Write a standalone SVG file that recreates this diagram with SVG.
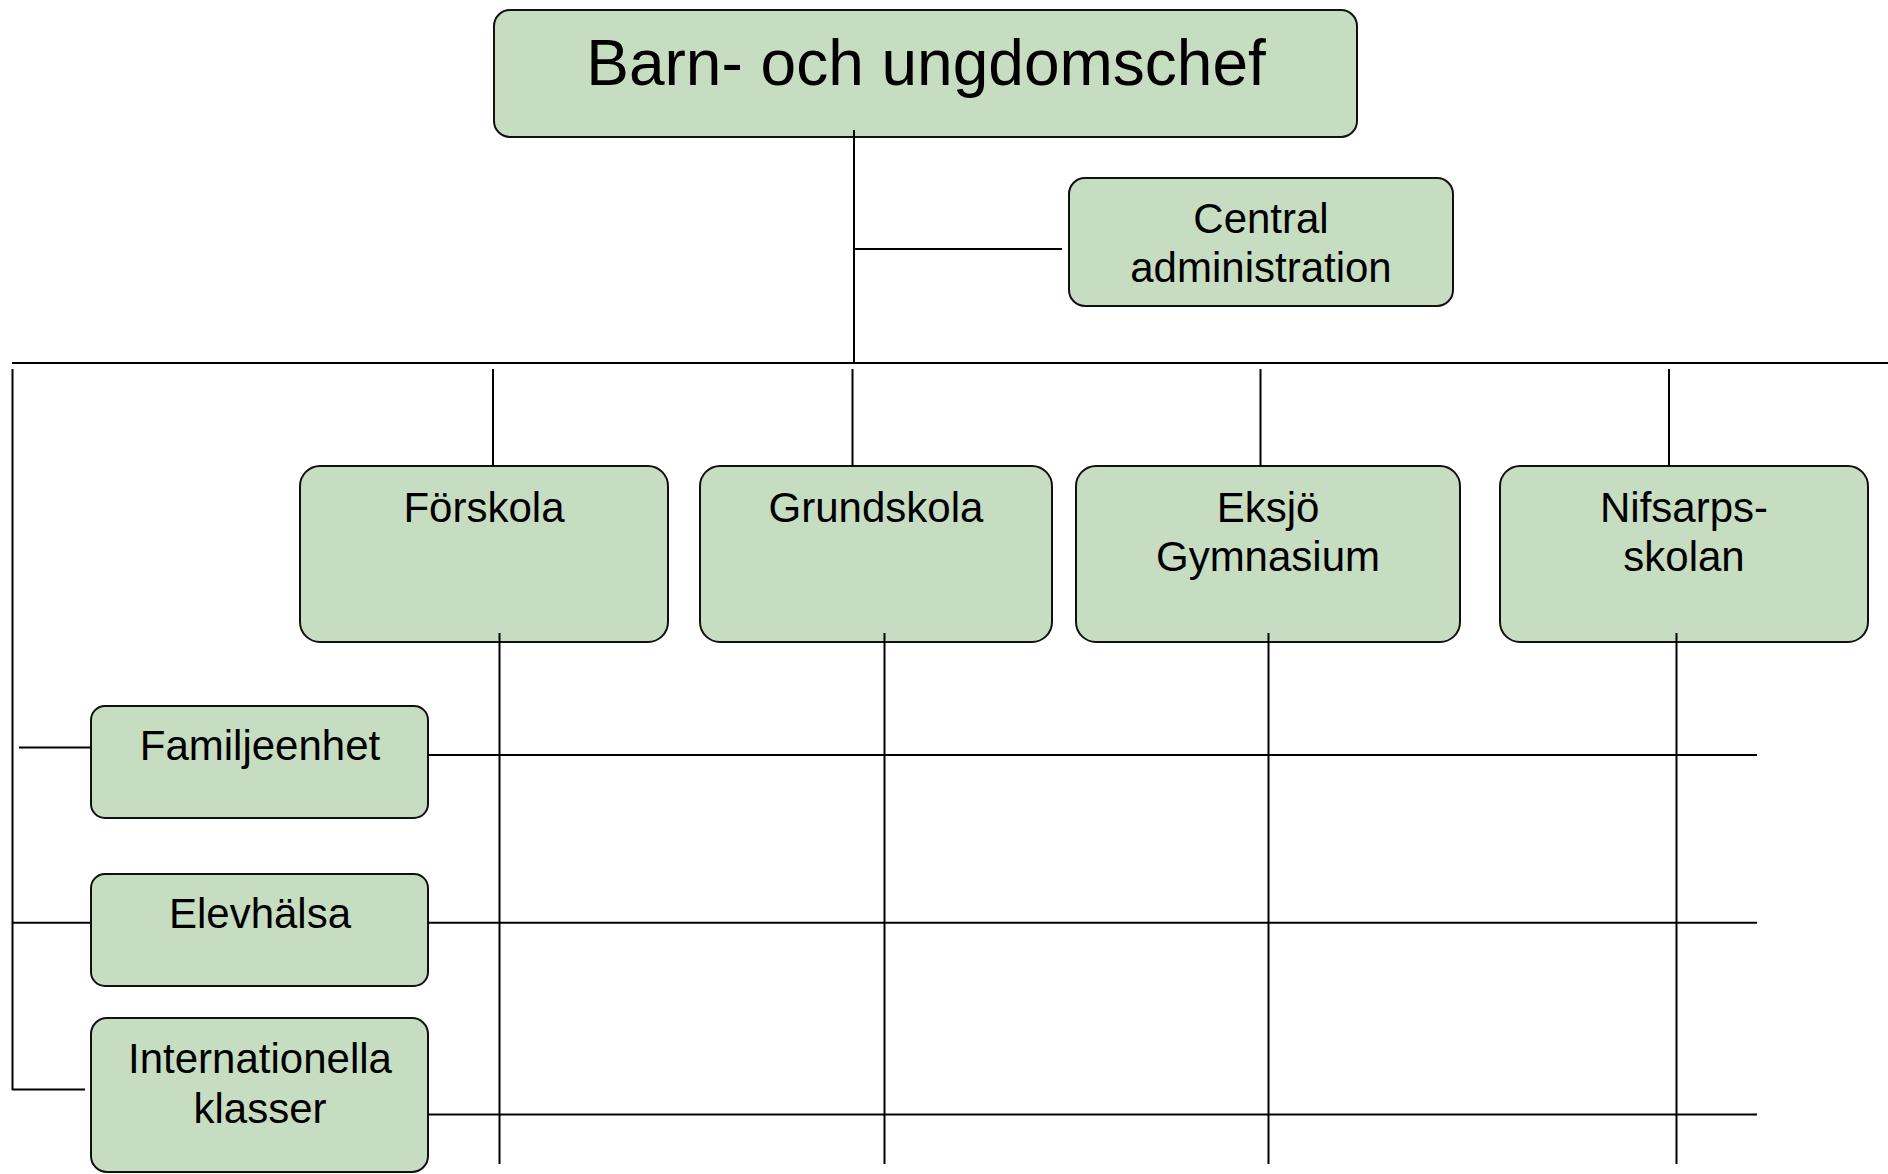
<svg xmlns="http://www.w3.org/2000/svg" width="1888" height="1174" viewBox="0 0 1888 1174">
<style>
.box{fill:#C6DDC1;stroke:#111;stroke-width:2}
.t{font-family:"Liberation Sans",Arial,sans-serif;font-size:42px;fill:#000;text-anchor:middle}
.big{font-size:64px}
.c line{stroke:#000;stroke-width:2}
</style>
<rect width="1888" height="1174" fill="#fff"/>
<g id="chef">
<rect class="box" x="494" y="10" width="863" height="127" rx="16"/>
<text class="t big" x="926" y="85">Barn- och ungdomschef</text>
</g>
<g id="central">
<rect class="box" x="1069" y="178" width="384" height="128" rx="16"/>
<text class="t" x="1261" y="233">Central</text>
<text class="t" x="1261" y="282">administration</text>
</g>
<g id="forskola">
<rect class="box" x="300" y="466" width="368" height="176" rx="20"/>
<text class="t" x="484" y="522">Förskola</text>
</g>
<g id="grundskola">
<rect class="box" x="700" y="466" width="352" height="176" rx="20"/>
<text class="t" x="876" y="522">Grundskola</text>
</g>
<g id="eksjo">
<rect class="box" x="1076" y="466" width="384" height="176" rx="20"/>
<text class="t" x="1268" y="522">Eksjö</text>
<text class="t" x="1268" y="571">Gymnasium</text>
</g>
<g id="nifsarps">
<rect class="box" x="1500" y="466" width="368" height="176" rx="20"/>
<text class="t" x="1684" y="522">Nifsarps-</text>
<text class="t" x="1684" y="571">skolan</text>
</g>
<g id="familjeenhet">
<rect class="box" x="91" y="706" width="337" height="112" rx="14"/>
<text class="t" x="260" y="760">Familjeenhet</text>
</g>
<g id="elevhalsa">
<rect class="box" x="91" y="874" width="337" height="112" rx="14"/>
<text class="t" x="260" y="928">Elevhälsa</text>
</g>
<g id="internationella">
<rect class="box" x="91" y="1018" width="337" height="154" rx="16"/>
<text class="t" x="260" y="1073">Internationella</text>
<text class="t" x="260" y="1123">klasser</text>
</g>
<g class="c" id="connectors">
<line x1="854" y1="130" x2="854" y2="363"/>
<line x1="854" y1="249" x2="1062" y2="249"/>
<line x1="12" y1="363" x2="1888" y2="363"/>
<line x1="493" y1="369" x2="493" y2="466"/>
<line x1="852.5" y1="369" x2="852.5" y2="466"/>
<line x1="1260.5" y1="369" x2="1260.5" y2="466"/>
<line x1="1669" y1="369" x2="1669" y2="466"/>
<line x1="12.5" y1="369" x2="12.5" y2="1090"/>
<line x1="19" y1="747.5" x2="91" y2="747.5"/>
<line x1="12" y1="922.7" x2="91" y2="922.7"/>
<line x1="12" y1="1089.5" x2="85" y2="1089.5"/>
<line x1="428" y1="755" x2="1757" y2="755"/>
<line x1="428" y1="922.7" x2="1757" y2="922.7"/>
<line x1="428" y1="1114.5" x2="1757" y2="1114.5"/>
<line x1="499.5" y1="633" x2="499.5" y2="1164"/>
<line x1="884.5" y1="633" x2="884.5" y2="1164"/>
<line x1="1268.5" y1="633" x2="1268.5" y2="1164"/>
<line x1="1676.5" y1="633" x2="1676.5" y2="1164"/>
</g>
</svg>
